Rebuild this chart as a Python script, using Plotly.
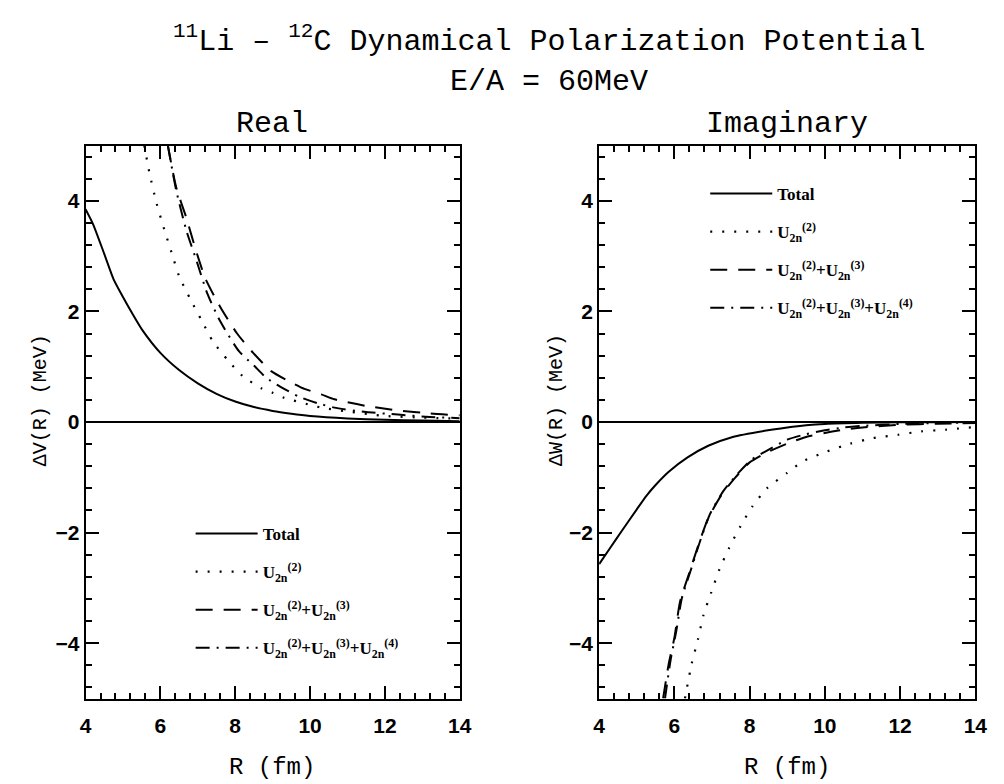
import plotly.graph_objects as go

# ---------------- data ----------------
R_re_total = [4.0, 4.2, 4.5, 4.75, 5.0, 5.25, 5.5, 6.0, 6.5, 7.0, 7.5, 8.0, 8.5, 9.0, 9.5, 10.0, 11.0, 12.0, 13.0, 14.0]
V_total = [3.85, 3.58, 3.04, 2.58, 2.26, 1.96, 1.68, 1.25, 0.94, 0.70, 0.51, 0.37, 0.27, 0.20, 0.15, 0.11, 0.065, 0.04, 0.025, 0.015]

R_re_u2 = [5.57, 5.7, 5.9, 6.1, 6.3, 6.5, 6.8, 7.1, 7.4, 7.8, 8.2, 8.7, 9.0, 9.3, 10.0, 10.3, 11.0, 12.0, 13.0, 14.0]
V_u2 = [5.0, 4.53, 3.95, 3.49, 3.06, 2.64, 2.22, 1.84, 1.46, 1.12, 0.83, 0.61, 0.53, 0.44, 0.31, 0.26, 0.19, 0.11, 0.08, 0.06]

R_re_u23 = [6.2, 6.42, 6.7, 6.92, 7.2, 7.6, 8.05, 8.48, 8.96, 9.4, 9.85, 10.3, 10.65, 11.5, 12.35, 13.2, 14.0]
V_u23 = [5.0, 4.25, 3.68, 3.17, 2.6, 2.08, 1.6, 1.25, 0.92, 0.75, 0.6, 0.5, 0.41, 0.29, 0.21, 0.155, 0.12]

R_re_u234 = [6.2, 6.42, 6.7, 6.95, 7.25, 7.6, 8.1, 8.5, 8.83, 9.2, 9.7, 10.2, 10.65, 11.5, 12.35, 13.2, 14.0]
V_u234 = [5.0, 4.2, 3.45, 2.95, 2.33, 1.82, 1.28, 1.02, 0.8, 0.64, 0.46, 0.34, 0.26, 0.18, 0.135, 0.09, 0.07]

R_im_total = [4.0, 4.3, 4.6, 5.0, 5.25, 5.5, 5.85, 6.35, 6.9, 7.55, 8.4, 9.0, 9.5, 10.0, 11.0, 12.0, 13.0, 14.0]
W_total = [-2.57, -2.27, -1.97, -1.58, -1.34, -1.14, -0.9, -0.64, -0.43, -0.27, -0.16, -0.1, -0.06, -0.035, -0.015, -0.006, -0.003, -0.001]

R_im_u2 = [6.28, 6.46, 6.63, 6.77, 6.98, 7.2, 7.46, 7.76, 8.07, 8.46, 9.0, 9.42, 10.03, 10.68, 11.29, 11.95, 12.56, 13.2, 14.0]
W_u2 = [-5.0, -4.37, -3.92, -3.5, -3.08, -2.66, -2.27, -1.88, -1.53, -1.2, -0.92, -0.71, -0.54, -0.39, -0.29, -0.23, -0.17, -0.14, -0.09]

R_im_u23 = [5.7, 5.85, 6.0, 6.15, 6.4, 6.65, 6.9, 7.25, 7.6, 8.0, 8.4, 9.0, 9.5, 10.0, 10.5, 11.0, 12.0, 13.0, 14.0]
W_u23 = [-5.0, -4.37, -3.9, -3.25, -2.72, -2.2, -1.74, -1.32, -1.02, -0.73, -0.57, -0.39, -0.27, -0.2, -0.14, -0.1, -0.05, -0.03, -0.02]

R_im_u234 = [5.75, 5.9, 6.05, 6.2, 6.45, 6.7, 6.95, 7.3, 7.65, 8.05, 8.45, 9.0, 9.5, 10.0, 10.5, 11.0, 12.0, 13.0, 14.0]
W_u234 = [-5.0, -4.3, -3.78, -3.18, -2.65, -2.12, -1.66, -1.25, -0.96, -0.68, -0.52, -0.32, -0.22, -0.15, -0.1, -0.07, -0.035, -0.02, -0.01]

series_names = [
    "Total",
    "U<sub>2n</sub><sup>(2)</sup>",
    "U<sub>2n</sub><sup>(2)</sup>+U<sub>2n</sub><sup>(3)</sup>",
    "U<sub>2n</sub><sup>(2)</sup>+U<sub>2n</sub><sup>(3)</sup>+U<sub>2n</sub><sup>(4)</sup>",
]
x_ticks = [4, 6, 8, 10, 12, 14]
y_ticks = [-4, -2, 0, 2, 4]

# ---------------- styling ----------------
W, H = 1004, 784
dashes = ["solid", "2px,10px", "17px,11px", "14px,7px,2px,7px"]
widths = [2, 2.2, 2, 2]
MONO = "Liberation Mono"

def px_x(p):
    return p / W

def px_y(p):
    return 1 - p / H

fig = go.Figure()

real = [(R_re_total, V_total), (R_re_u2, V_u2), (R_re_u23, V_u23), (R_re_u234, V_u234)]
imag = [(R_im_total, W_total), (R_im_u2, W_u2), (R_im_u23, W_u23), (R_im_u234, W_u234)]

for i, (xs, ys) in enumerate(real):
    fig.add_trace(go.Scatter(x=xs, y=ys, mode="lines", name=series_names[i],
                             line=dict(color="black", width=widths[i], dash=dashes[i],
                                       shape="spline", smoothing=0.6),
                             xaxis="x", yaxis="y", legend="legend", legendgroup="a%d" % i))
for i, (xs, ys) in enumerate(imag):
    fig.add_trace(go.Scatter(x=xs, y=ys, mode="lines", name=series_names[i],
                             line=dict(color="black", width=widths[i], dash=dashes[i],
                                       shape="spline", smoothing=0.6),
                             xaxis="x2", yaxis="y2", legend="legend2", legendgroup="b%d" % i))

tickfont = dict(family="Liberation Sans", size=21, color="black", weight="bold")

def xax(domain, anchor):
    return dict(domain=domain, anchor=anchor, range=[4, 14], tickvals=x_ticks,
                ticks="inside", ticklen=13, tickwidth=2, tickcolor="black",
                mirror="allticks", showline=True, linewidth=2, linecolor="black",
                showgrid=False, zeroline=False, tickfont=tickfont, ticklabelstandoff=7,
                minor=dict(tick0=4, dtick=0.4, ticks="inside", ticklen=6, tickwidth=1.5,
                           tickcolor="black", showgrid=False))

def yax(domain, anchor):
    return dict(domain=domain, anchor=anchor, range=[-5, 5], tickvals=y_ticks,
                ticks="inside", ticklen=13, tickwidth=2, tickcolor="black",
                mirror="allticks", showline=True, linewidth=2, linecolor="black",
                showgrid=False, zeroline=True, zerolinecolor="black", zerolinewidth=2,
                tickfont=tickfont,
                minor=dict(tick0=0, dtick=0.4, ticks="inside", ticklen=6, tickwidth=1.5,
                           tickcolor="black", showgrid=False))

legfont = dict(family="Liberation Serif", size=17, color="black", weight="bold")
ydom = [px_y(698.5), px_y(145.5)]
fig.update_layout(
    width=W, height=H,
    margin=dict(l=0, r=0, t=0, b=0),
    paper_bgcolor="white", plot_bgcolor="white",
    xaxis=xax([px_x(81), px_x(462)], "y"),
    yaxis=yax(ydom, "x"),
    xaxis2=xax([px_x(604), px_x(987)], "y2"),
    yaxis2=yax(ydom, "x2"),
    legend=dict(x=px_x(188), y=px_y(516), xanchor="left", yanchor="top",
                bgcolor="rgba(0,0,0,0)", tracegroupgap=13, itemwidth=62, font=legfont),
    legend2=dict(x=px_x(712), y=px_y(176), xanchor="left", yanchor="top",
                 bgcolor="rgba(0,0,0,0)", tracegroupgap=13, itemwidth=62, font=legfont),
)

ann_font = dict(family=MONO, size=30, color="black")
annots = [
    dict(text="<sup>11</sup>Li – <sup>12</sup>C Dynamical Polarization Potential", x=px_x(553), y=px_y(40), font=ann_font),
    dict(text="E/A = 60MeV", x=px_x(553), y=px_y(82), font=ann_font),
    dict(text="Real", x=px_x(271), y=px_y(124), font=ann_font),
    dict(text="Imaginary", x=px_x(795), y=px_y(124), font=ann_font),
    dict(text="R (fm)", x=px_x(271), y=px_y(767), font=dict(family=MONO, size=24, color="black")),
    dict(text="R (fm)", x=px_x(795), y=px_y(767), font=dict(family=MONO, size=24, color="black")),
    dict(text="ΔV(R) (MeV)", x=px_x(35), y=px_y(400), textangle=-90, font=dict(family=MONO, size=20, color="black")),
    dict(text="ΔW(R) (MeV)", x=px_x(560), y=px_y(400), textangle=-90, font=dict(family=MONO, size=20, color="black")),
]
for a in annots:
    fig.add_annotation(xref="paper", yref="paper", showarrow=False, xanchor="center", yanchor="middle", **a)

fig.write_html("out.html")
